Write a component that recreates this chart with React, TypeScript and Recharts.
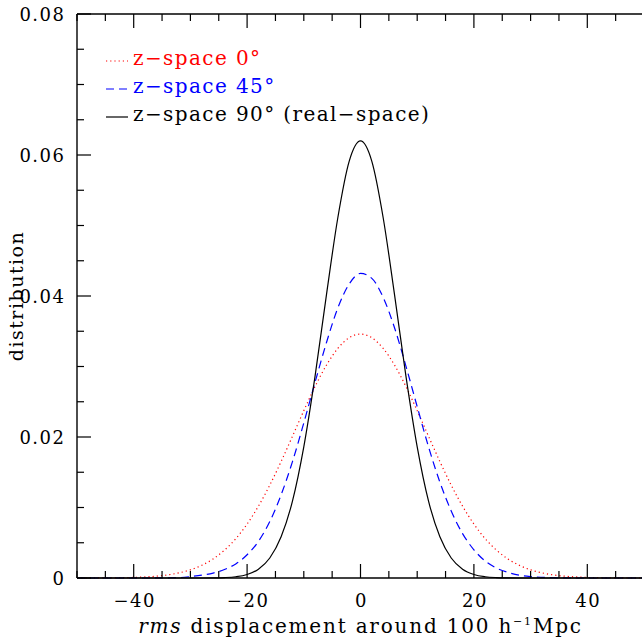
import React from 'react';
import { LineChart, Line, XAxis, YAxis, Legend } from 'recharts';

// displacement grid (x) and the three distributions
const xs = [
  -50, -48, -46, -44, -42, -40, -38, -36, -34, -32, -30, -28, -26, -24, -22, -20, -18, -16, -14, -12, -10, -8, -6, -4, -2,
  0, 2, 4, 6, 8, 10, 12, 14, 16, 18, 20, 22, 24, 26, 28, 30, 32, 34, 36, 38, 40, 42, 44, 46, 48, 50,
];
const zspace0 = [
  0, 0, 0.00001, 0.00002, 0.00004, 0.00008, 0.00015, 0.00026, 0.00044, 0.00073, 0.00116, 0.0018, 0.0027, 0.00394, 0.00557,
  0.00765, 0.01019, 0.01317, 0.01652, 0.0201, 0.02373, 0.02718, 0.0302, 0.03257, 0.03408,
  0.0346, 0.03408, 0.03257, 0.0302, 0.02718, 0.02373, 0.0201, 0.01652, 0.01317, 0.01019, 0.00765, 0.00557, 0.00394,
  0.0027, 0.0018, 0.00116, 0.00073, 0.00044, 0.00026, 0.00015, 0.00008, 0.00004, 0.00002, 0.00001, 0, 0,
];
const zspace45 = [
  0, 0, 0, 0, 0, 0, 0, 0.00001, 0.00003, 0.00006, 0.0002, 0.0004, 0.0007, 0.0012, 0.002, 0.0033, 0.0052, 0.008, 0.0118,
  0.0165, 0.022, 0.0278, 0.0334, 0.0383, 0.0417,
  0.0432, 0.0425, 0.0398, 0.0355, 0.0301, 0.0243, 0.0186, 0.0136, 0.0095, 0.0063, 0.004, 0.0024, 0.0014, 0.0008,
  0.0004, 0.0002, 0.0001, 0.00004, 0.00002, 0, 0, 0, 0, 0, 0, 0,
];
const zspace90 = [
  0, 0, 0, 0, 0, 0, 0, 0, 0, 0, 0, 0, 0.00002, 0.00006, 0.00018, 0.0005, 0.00125, 0.00284, 0.00585, 0.0109, 0.0186,
  0.0287, 0.0402, 0.0511, 0.0591,
  0.062, 0.0591, 0.0511, 0.0402, 0.0287, 0.0186, 0.0109, 0.00585, 0.00284, 0.00125, 0.0005, 0.00018, 0.00006, 0.00002,
  0, 0, 0, 0, 0, 0, 0, 0, 0, 0, 0, 0,
];

const xTicks = [-50, -45, -40, -35, -30, -25, -20, -15, -10, -5, 0, 5, 10, 15, 20, 25, 30, 35, 40, 45, 50];
const xLabelTicks = [-40, -20, 0, 20, 40];
const yTicks = [
  0, 0.005, 0.01, 0.015, 0.02, 0.025, 0.03, 0.035, 0.04, 0.045, 0.05, 0.055, 0.06, 0.065, 0.07, 0.075, 0.08,
];
const yLabelTicks = [0, 0.02, 0.04, 0.06, 0.08];

const legendItems = [
  { key: 'zspace0', label: 'z\u2212space 0\u00b0', color: '#ff0000', dash: '1.2 3' },
  { key: 'zspace45', label: 'z\u2212space 45\u00b0', color: '#0000ff', dash: '8 5' },
  { key: 'zspace90', label: 'z\u2212space 90\u00b0 (real\u2212space)', color: '#000000', dash: undefined },
];

const data = xs.map((x, i) => ({
  x,
  zspace0: zspace0[i],
  zspace45: zspace45[i],
  zspace90: zspace90[i],
}));

const FONT = '"DejaVu Serif", serif';
const MAJOR = 14;
const MINOR = 7;

const isLabelled = (v: number, list: number[]) => list.some((t) => Math.abs(t - v) < 1e-9);
const fmtX = (v: number) => (v < 0 ? '\u2212' + Math.abs(v) : String(v));
const fmtY = (v: number) => (v === 0 ? '0' : v.toFixed(2));

function BottomTick(props: any) {
  const { x, y, payload } = props;
  const v = payload.value;
  const major = v % 20 === 0;
  return (
    <g>
      <line x1={x} x2={x} y1={y} y2={y - (major ? MAJOR : MINOR)} stroke="#000" strokeWidth={1.2} />
      {isLabelled(v, xLabelTicks) && (
        <text x={x + 1} y={y + 29} textAnchor="middle" fontFamily={FONT} fontSize={18} letterSpacing={1.5} fill="#000">
          {fmtX(v)}
        </text>
      )}
    </g>
  );
}

function TopTick(props: any) {
  const { x, y, payload } = props;
  const major = payload.value % 20 === 0;
  return <line x1={x} x2={x} y1={y} y2={y + (major ? MAJOR : MINOR)} stroke="#000" strokeWidth={1.2} />;
}

function LeftTick(props: any) {
  const { x, y, payload } = props;
  const v = payload.value;
  const major = isLabelled(v, yLabelTicks);
  return (
    <g>
      <line x1={x} x2={x + (major ? MAJOR : MINOR)} y1={y} y2={y} stroke="#000" strokeWidth={1.2} />
      {major && (
        <text x={x - 11.5} y={y + 6.5} textAnchor="end" fontFamily={FONT} fontSize={18} letterSpacing={1.5} fill="#000">
          {fmtY(v)}
        </text>
      )}
    </g>
  );
}

function RightTick(props: any) {
  const { x, y, payload } = props;
  const major = isLabelled(payload.value, yLabelTicks);
  return <line x1={x} x2={x - (major ? MAJOR : MINOR)} y1={y} y2={y} stroke="#000" strokeWidth={1.2} />;
}

function LegendBox() {
  return (
    <div style={{ fontFamily: FONT, fontSize: 20, letterSpacing: 1.4, lineHeight: '28px' }}>
      {legendItems.map((it) => (
        <div key={it.key} style={{ display: 'flex', alignItems: 'center', whiteSpace: 'nowrap', color: it.color }}>
          <svg width={29} height={10} style={{ marginTop: 6 }}>
            <line x1={2} x2={24} y1={5} y2={5} stroke={it.color} strokeWidth={1.2} strokeDasharray={it.dash} />
          </svg>
          <span>{it.label}</span>
        </div>
      ))}
    </div>
  );
}

export default function App() {
  return (
    <div
      style={{
        position: 'fixed',
        left: 0,
        top: 0,
        width: 642,
        height: 641,
        overflow: 'hidden',
        background: '#fff',
      }}
    >
      <LineChart width={660} height={641} data={data} margin={{ top: 0, right: 0, bottom: 0, left: 0 }}>
        <XAxis
          xAxisId="b"
          dataKey="x"
          type="number"
          domain={[-50, 50]}
          ticks={xTicks}
          interval={0}
          height={63}
          tickSize={0}
          tickMargin={0}
          tickLine={false}
          axisLine={{ stroke: '#000', strokeWidth: 1.4 }}
          tick={<BottomTick />}
          label={{
            content: (p: any) => {
              const vb = p.viewBox || { x: 77, y: 578, width: 567 };
              return (
                <text
                  x={vb.x + vb.width / 2}
                  y={vb.y + 55}
                  textAnchor="middle"
                  fontFamily={FONT}
                  fontSize={20}
                  letterSpacing={1.8}
                  fill="#000"
                >
                  <tspan fontStyle="italic">rms</tspan>
                  <tspan> displacement around 100 h</tspan>
                  <tspan fontSize={11} dy={-8}>
                    {'\u22121'}
                  </tspan>
                  <tspan dy={8}>Mpc</tspan>
                </text>
              );
            },
          }}
        />
        <XAxis
          xAxisId="t"
          orientation="top"
          dataKey="x"
          type="number"
          domain={[-50, 50]}
          ticks={xTicks}
          interval={0}
          height={14}
          tickSize={0}
          tickMargin={0}
          tickLine={false}
          axisLine={{ stroke: '#000', strokeWidth: 1.4 }}
          tick={<TopTick />}
        />
        <YAxis
          yAxisId="l"
          type="number"
          domain={[0, 0.08]}
          ticks={yTicks}
          interval={0}
          width={77}
          tickSize={0}
          tickMargin={0}
          tickLine={false}
          axisLine={{ stroke: '#000', strokeWidth: 1.4 }}
          tick={<LeftTick />}
          label={{
            content: (p: any) => {
              const vb = p.viewBox || { x: 0, y: 14, height: 564 };
              const cy = vb.y + vb.height / 2;
              return (
                <text
                  x={23}
                  y={cy}
                  transform={`rotate(-90 23 ${cy})`}
                  textAnchor="middle"
                  fontFamily={FONT}
                  fontSize={19}
                  letterSpacing={1.5}
                  fill="#000"
                >
                  distribution
                </text>
              );
            },
          }}
        />
        <YAxis
          yAxisId="r"
          orientation="right"
          type="number"
          domain={[0, 0.08]}
          ticks={yTicks}
          interval={0}
          width={16}
          tickSize={0}
          tickMargin={0}
          tickLine={false}
          axisLine={{ stroke: '#000', strokeWidth: 1.4 }}
          tick={<RightTick />}
        />
        <Legend
          layout="horizontal"
          verticalAlign="middle"
          align="center"
          content={() => <LegendBox />}
          wrapperStyle={{ top: 44, left: 104, width: 'auto', height: 'auto' }}
        />
        <Line
          xAxisId="b"
          yAxisId="l"
          type="monotone"
          dataKey="zspace0"
          stroke="#ff0000"
          strokeWidth={1.2}
          strokeDasharray="1.2 3"
          dot={false}
          isAnimationActive={false}
        />
        <Line
          xAxisId="b"
          yAxisId="l"
          type="monotone"
          dataKey="zspace45"
          stroke="#0000ff"
          strokeWidth={1.2}
          strokeDasharray="8 5"
          dot={false}
          isAnimationActive={false}
        />
        <Line
          xAxisId="b"
          yAxisId="l"
          type="monotone"
          dataKey="zspace90"
          stroke="#000000"
          strokeWidth={1.2}
          dot={false}
          isAnimationActive={false}
        />
      </LineChart>
    </div>
  );
}
